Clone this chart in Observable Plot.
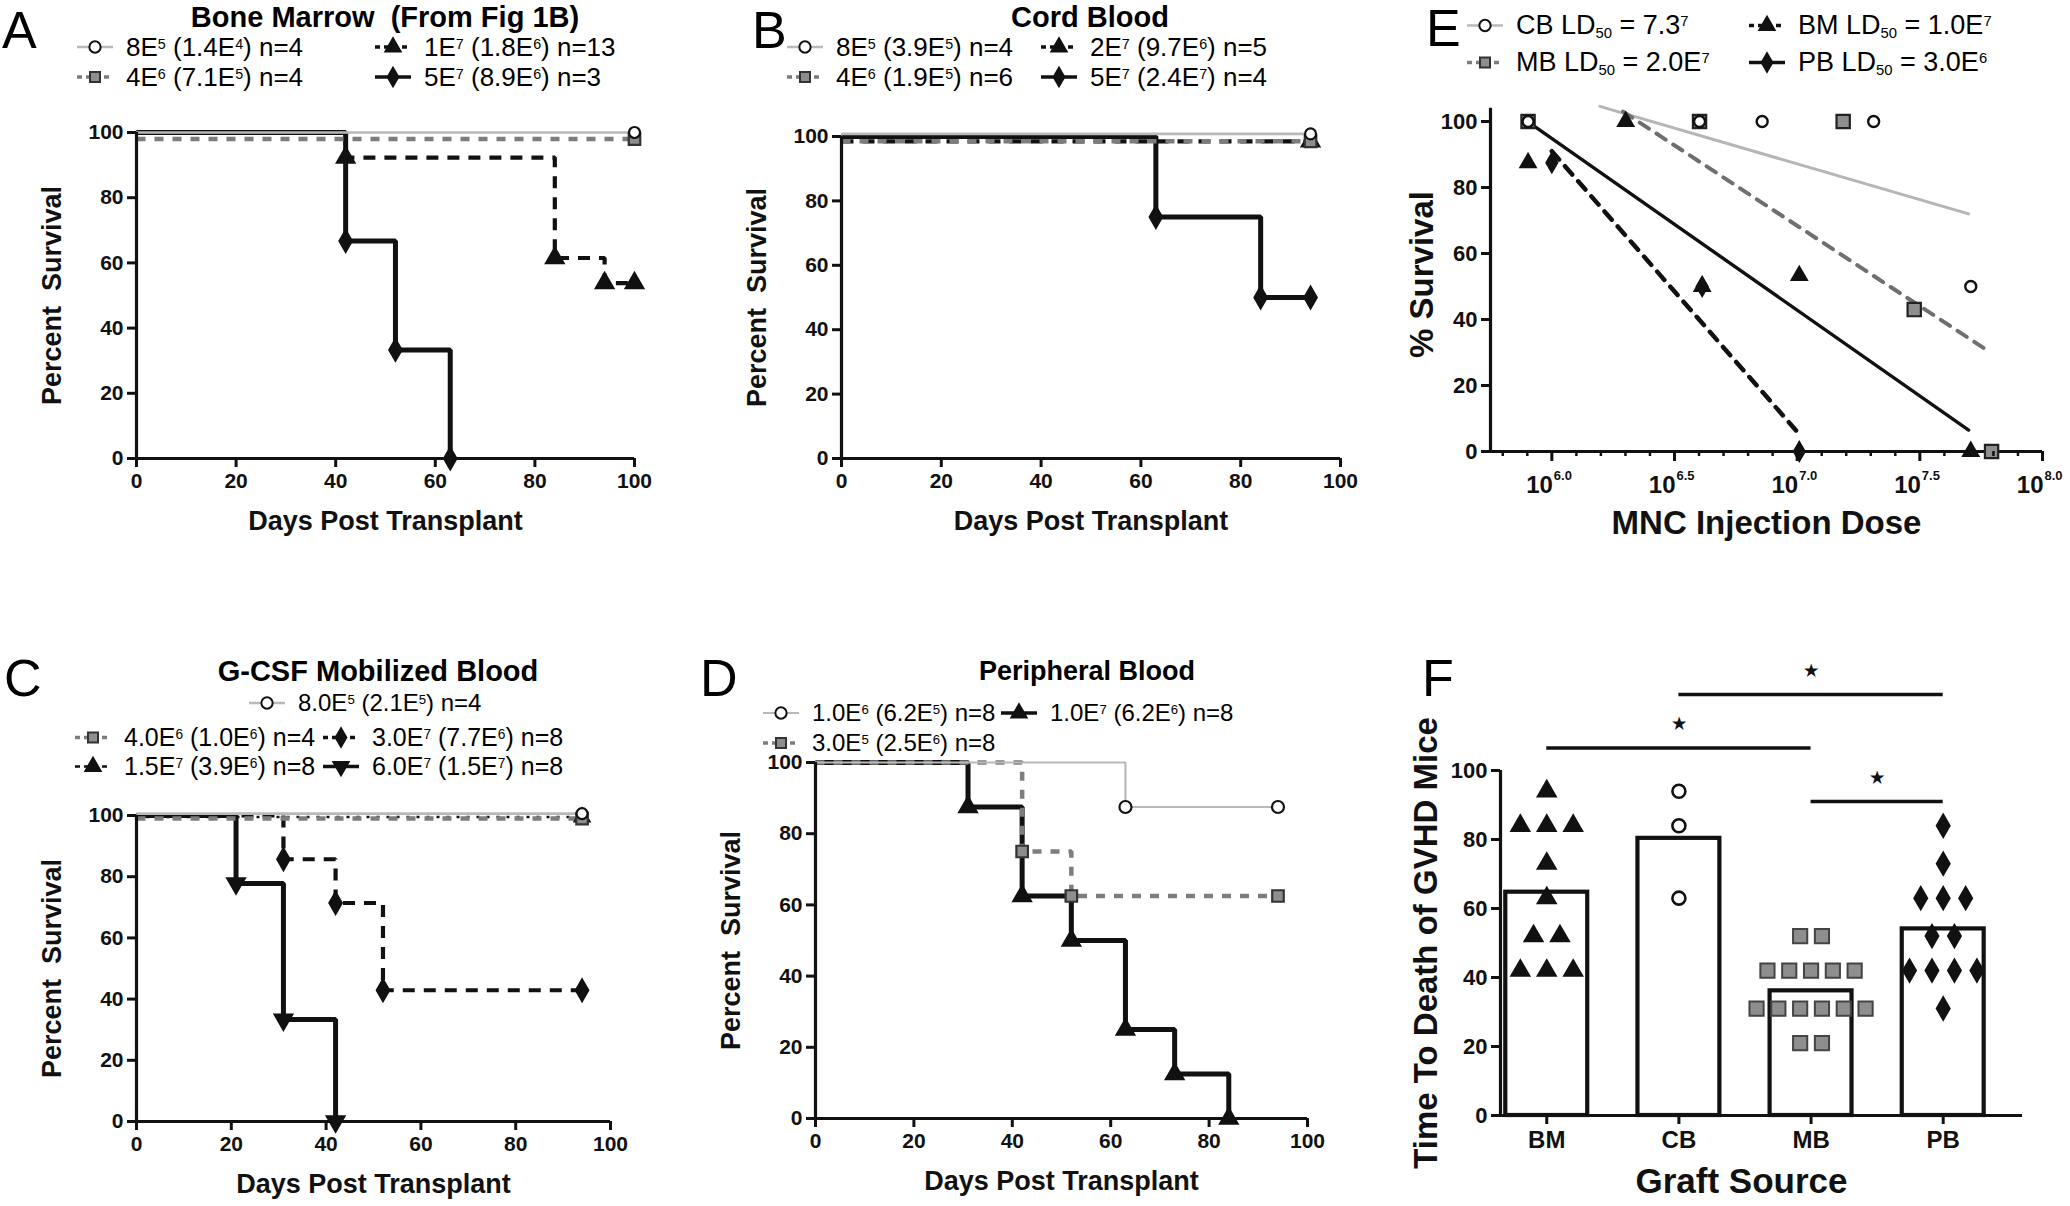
<!DOCTYPE html>
<html><head><meta charset="utf-8">
<script src="https://cdn.jsdelivr.net/npm/d3@7"></script>
<script src="https://cdn.jsdelivr.net/npm/@observablehq/plot@0.6"></script>
<style>
body{margin:0;background:#fff;}
#root{position:relative;width:2070px;height:1206px;overflow:hidden;background:#fff;font-family:"Liberation Sans",Arial,sans-serif;color:#000;}
.abs{position:absolute;white-space:nowrap;line-height:1;}
.letter{font-size:52px;}
.ptitle{font-weight:bold;transform:translate(-50%,-50%);}
.leg{display:flex;align-items:center;gap:12px;transform:translateY(-50%);}
.leg sup{font-size:0.55em;vertical-align:0.5em;line-height:0;}
.leg sub{font-size:0.55em;vertical-align:-0.3em;line-height:0;}
</style></head><body><div id="root"></div><script>
// ================= DATA =================
// Panel A — Bone Marrow (From Fig 1B): Kaplan–Meier steps (days, % survival)
const A_labels = ["8E<sup>5</sup> (1.4E<sup>4</sup>) n=4","4E<sup>6</sup> (7.1E<sup>5</sup>) n=4","1E<sup>7</sup> (1.8E<sup>6</sup>) n=13","5E<sup>7</sup> (8.9E<sup>6</sup>) n=3"];
const A_days = [[0,100],[0,100],[0,42,84,94,100],[0,42,52,63]];
const A_surv = [[100,100],[98,98],[100,92.3,61.5,53.8,53.8],[100,66.7,33.3,0]];
const A_kind = ["grayCircle","graySquare","blackTriDash","blackDiamond"];

// Panel B — Cord Blood
const B_labels = ["8E<sup>5</sup> (3.9E<sup>5</sup>) n=4","4E<sup>6</sup> (1.9E<sup>5</sup>) n=6","2E<sup>7</sup> (9.7E<sup>6</sup>) n=5","5E<sup>7</sup> (2.4E<sup>7</sup>) n=4"];
const B_days = [[0,94],[0,94],[0,94],[0,63,84,94]];
const B_surv = [[100.8,100.8],[98.5,98.5],[98.5,98.5],[100,75,50,50]];
const B_kind = ["grayCircle","graySquare","blackTriDash","blackDiamond"];

// Panel C — G-CSF Mobilized Blood
const C_labels = ["8.0E<sup>5</sup> (2.1E<sup>5</sup>) n=4","4.0E<sup>6</sup> (1.0E<sup>6</sup>) n=4","3.0E<sup>7</sup> (7.7E<sup>6</sup>) n=8","1.5E<sup>7</sup> (3.9E<sup>6</sup>) n=8","6.0E<sup>7</sup> (1.5E<sup>7</sup>) n=8"];
const C_days = [[0,94],[0,94],[0,31,42,52,94],[0,94],[0,21,31,42]];
const C_surv = [[100.6,100.6],[99,99],[100,85.7,71.4,42.9,42.9],[99.5,99.5],[100,77.8,33.3,0]];
const C_kind = ["grayCircle","graySquare","blackDiamondDash","blackTriDot","blackInvTri"];

// Panel D — Peripheral Blood
const D_labels = ["1.0E<sup>6</sup> (6.2E<sup>5</sup>) n=8","1.0E<sup>7</sup> (6.2E<sup>6</sup>) n=8","3.0E<sup>5</sup> (2.5E<sup>6</sup>) n=8"];
const D_days = [[0,63,94],[0,31,42,52,63,73,84],[0,42,52,94]];
const D_surv = [[100,87.5,87.5],[100,87.5,62.5,50,25,12.5,0],[100,75,62.5,62.5]];
const D_kind = ["grayCircleThin","blackTriSolid","graySquare"];

const SURV_TICKS = [0,20,40,60,80,100];

// Panel E — % survival vs MNC injection dose (log scale)
const E_labels = ["CB LD<sub>50</sub> = 7.3<sup>7</sup>","BM LD<sub>50</sub> = 1.0E<sup>7</sup>","MB LD<sub>50</sub> = 2.0E<sup>7</sup>","PB LD<sub>50</sub> = 3.0E<sup>6</sup>"];
const E_cb_dose = [8.0e5, 4.0e6, 7.2e6, 2.05e7, 5.1e7];
const E_cb_surv = [100, 100, 100, 100, 50];
const E_bm_dose = [8.0e5, 2.0e6, 4.1e6, 1.02e7, 5.1e7];
const E_bm_surv = [87.5, 100, 50, 53.3, 0];
const E_mb_dose = [8.0e5, 4.0e6, 1.54e7, 3.0e7, 6.2e7];
const E_mb_surv = [100, 100, 100, 43, 0];
const E_pb_dose = [1.0e6, 4.1e6, 1.02e7];
const E_pb_surv = [87.5, 50, 0];
// regression lines (end points)
const E_fit_cb_dose = [1.57e6, 5.0e7],  E_fit_cb_surv = [104.6, 72];
const E_fit_mb_dose = [1.95e6, 6.0e7],  E_fit_mb_surv = [103, 30.5];
const E_fit_bm_dose = [8.5e5, 5.0e7],   E_fit_bm_surv = [98.5, 6.5];
const E_fit_pb_dose = [1.0e6, 1.0e7],   E_fit_pb_surv = [91, 6];
const E_xticks = [1e6, 10**6.5, 1e7, 10**7.5, 1e8];
const E_xtick_exp = ["6.0","6.5","7.0","7.5","8.0"];
const E_yticks = [0,20,40,60,80,100];

// Panel F — Time to death of GVHD mice by graft source
const F_sources = ["BM","CB","MB","PB"];
const F_bm = [94,84,84,84,73,63,52,52,42,42,42];
const F_cb = [94,84,63];
const F_mb = [52,52,42,42,42,42,42,31,31,31,31,31,31,21,21];
const F_pb = [84,73,63,63,63,52,52,42,42,42,42,31];
const F_sig_pairs = [["BM","MB"],["CB","PB"],["MB","PB"]];
const F_sig_height = [106.5, 122, 91];
const F_yticks = [0,20,40,60,80,100];

// ================= STYLES =================
const FONT = '"Liberation Sans", Arial, sans-serif';
const symInvTri = {draw(ctx, size){
  const y = -Math.sqrt(size / (Math.sqrt(3) * 3));
  ctx.moveTo(0, -y * 2); ctx.lineTo(-Math.sqrt(3) * y, y); ctx.lineTo(Math.sqrt(3) * y, y); ctx.closePath();
}};
const STY = {
  grayCircle:     {stroke:"#b9b9b9", sw:2.6, dash:null,   symbol:"circle",   fill:"white", mstroke:"#111", r:5.5, z:5},
  grayCircleThin: {stroke:"#b9b9b9", sw:2.2, dash:null,   symbol:"circle",   fill:"white", mstroke:"#111", r:6,   z:5},
  graySquare:     {stroke:"#7d7d7d", sw:4.5, dash:"9,9",  symbol:"square",   fill:"#8e8e8e", mstroke:"#333", r:6.5, z:4},
  blackTriDash:   {stroke:"#111", sw:4.2, dash:"12,9",    symbol:"triangle", fill:"#111", mstroke:"#111", r:6.5, z:3},
  blackTriDot:    {stroke:"#111", sw:2.4, dash:"3,7",     symbol:"triangle", fill:"#111", mstroke:"#111", r:5.5, z:3},
  blackDiamondDash:{stroke:"#111", sw:4.2, dash:"12,9",   symbol:"diamond",  fill:"#111", mstroke:"#111", r:6.5, z:2},
  blackDiamond:   {stroke:"#111", sw:5,   dash:null,      symbol:"diamond",  fill:"#111", mstroke:"#111", r:6.5, z:1},
  blackTriSolid:  {stroke:"#111", sw:5,   dash:null,      symbol:"triangle", fill:"#111", mstroke:"#111", r:6.5, z:1},
  blackInvTri:    {stroke:"#111", sw:5,   dash:null,      symbol:symInvTri,  fill:"#111", mstroke:"#111", r:6.5, z:1}
};
const D3SYM = {circle:d3.symbolCircle, square:d3.symbolSquare, triangle:d3.symbolTriangle, diamond:d3.symbolDiamond};

const root = document.getElementById("root");
function place(el, left, top){ el.style.position="absolute"; el.style.left=left+"px"; el.style.top=top+"px"; root.appendChild(el); }
function html(cls, inner, left, top, size){ const d=document.createElement("div"); d.className="abs "+cls; d.innerHTML=inner; if(size) d.style.fontSize=size+"px"; place(d,left,top); return d; }
function swatch(kind){
  const s = STY[kind];
  const type = typeof s.symbol === "string" ? D3SYM[s.symbol] : s.symbol;
  const p = d3.symbol(type, 100)();
  const dash = s.dash ? `stroke-dasharray="5,4"` : "";
  return `<svg width="38" height="22" viewBox="-19 -11 38 22" style="overflow:visible;flex:none"><line x1="-18" x2="18" y1="0" y2="0" stroke="${s.stroke}" stroke-width="${Math.min(s.sw,3.5)}" ${dash}/><path d="${p}" fill="${s.fill}" stroke="${s.mstroke}" stroke-width="2"/></svg>`;
}
function legendItem(kind, label, left, cy, size){ html("leg", swatch(kind)+"<span>"+label+"</span>", left, cy, size); }
function frameSpec(x0, x1, yTop, yBot){
  const ml=160, mr=70, mt=50, mb=110;
  return {left:x0-ml, top:yTop-mt, width:(x1-x0)+ml+mr, height:(yBot-yTop)+mt+mb, marginLeft:ml, marginRight:mr, marginTop:mt, marginBottom:mb};
}
const plotStyle = {background:"transparent", overflow:"visible", fontFamily:FONT, fontWeight:"bold", maxWidth:"none", color:"#111"};

function survivalPanel(days, surv, kind, x0, x1, yTop, yBot){
  const f = frameSpec(x0, x1, yTop, yBot);
  const order = d3.range(days.length).sort((a,b)=>STY[kind[a]].z - STY[kind[b]].z);
  const marks = [];
  for (const i of order){
    const s = STY[kind[i]];
    const pts = days[i].map((t,j)=>({t, v:surv[i][j], j}));
    marks.push(Plot.line(pts, {x:"t", y:"v", curve:"step-after", stroke:s.stroke, strokeWidth:s.sw, strokeDasharray:s.dash||undefined, strokeLinecap:"butt", strokeLinejoin:"miter"}));
  }
  marks.push(Plot.ruleY([0], {x1:0, x2:100, strokeWidth:3.2, stroke:"#111"}));
  marks.push(Plot.ruleX([0], {y1:0, y2:100, strokeWidth:3.2, stroke:"#111"}));
  for (const i of order){
    const s = STY[kind[i]];
    const pts = days[i].map((t,j)=>({t, v:surv[i][j], j})).filter(p=>p.j>0);
    marks.push(Plot.dot(pts, {x:"t", y:"v", symbol:s.symbol, r:s.r, fill:s.fill, stroke:s.mstroke, strokeWidth:2.2}));
  }
  marks.push(Plot.axisX({ticks:SURV_TICKS, tickSize:9, tickPadding:6, fontSize:21, strokeWidth:3, label:null, tickFormat:d=>d}));
  marks.push(Plot.axisY({ticks:SURV_TICKS, tickSize:9, tickPadding:4, fontSize:21, strokeWidth:3, label:null, tickFormat:d=>d}));
  marks.push(Plot.text(["Days Post Transplant"], {frameAnchor:"bottom", lineAnchor:"middle", textAnchor:"middle", dy:63, fontSize:27}));
  marks.push(Plot.text(["Percent  Survival"], {frameAnchor:"left", lineAnchor:"middle", textAnchor:"middle", rotate:-90, dx:-84, fontSize:27}));
  const svg = Plot.plot({width:f.width, height:f.height, marginLeft:f.marginLeft, marginRight:f.marginRight, marginTop:f.marginTop, marginBottom:f.marginBottom,
    x:{domain:[0,100]}, y:{domain:[0,100]}, style:plotStyle, marks});
  place(svg, f.left, f.top);
}

// ---------- Panel A
survivalPanel(A_days, A_surv, A_kind, 136, 634, 132, 458);
html("letter","A",2,4);
html("ptitle","Bone Marrow&nbsp;&nbsp;(From Fig 1B)",385,17,29);
legendItem(A_kind[0], A_labels[0], 76, 47, 26);
legendItem(A_kind[2], A_labels[2], 374, 47, 26);
legendItem(A_kind[1], A_labels[1], 76, 77, 26);
legendItem(A_kind[3], A_labels[3], 374, 77, 26);

// ---------- Panel B
survivalPanel(B_days, B_surv, B_kind, 841, 1340, 136, 458);
html("letter","B",752,4);
html("ptitle","Cord Blood",1090,17,29);
legendItem(B_kind[0], B_labels[0], 786, 47, 26);
legendItem(B_kind[2], B_labels[2], 1040, 47, 26);
legendItem(B_kind[1], B_labels[1], 786, 77, 26);
legendItem(B_kind[3], B_labels[3], 1040, 77, 26);

// ---------- Panel C
survivalPanel(C_days, C_surv, C_kind, 136, 610, 815, 1121);
html("letter","C",4,652);
html("ptitle","G-CSF Mobilized Blood",378,671,29);
legendItem(C_kind[0], C_labels[0], 248, 703, 24);
legendItem(C_kind[1], C_labels[1], 74, 737, 25);
legendItem(C_kind[2], C_labels[2], 322, 737, 25);
legendItem(C_kind[3], C_labels[3], 74, 766, 25);
legendItem(C_kind[4], C_labels[4], 322, 766, 25);

// ---------- Panel D
survivalPanel(D_days, D_surv, D_kind, 815, 1307, 762, 1118);
html("letter","D",700,652);
html("ptitle","Peripheral Blood",1087,671,27);
legendItem(D_kind[0], D_labels[0], 762, 713, 24);
legendItem(D_kind[1], D_labels[1], 1000, 713, 24);
legendItem(D_kind[2], D_labels[2], 762, 743, 24);

// ---------- Panel E
(function(){
  const x0=1490, x1=2042, yTop=121, yBot=451;
  const f = frameSpec(x0, x1, yTop, yBot);
  const xmin = 10**5.75, xmax = 1e8;
  const minor = d3.range(58, 80).filter(v=>v%5!==0).map(v=>10**(v/10));
  const pts = (dose, surv)=>dose.map((x,i)=>({x, y:surv[i]}));
  const marks = [
    Plot.line(pts(E_fit_cb_dose,E_fit_cb_surv), {x:"x", y:"y", stroke:"#b5b5b5", strokeWidth:3}),
    Plot.line(pts(E_fit_mb_dose,E_fit_mb_surv), {x:"x", y:"y", stroke:"#6f6f6f", strokeWidth:4, strokeDasharray:"11,9"}),
    Plot.line(pts(E_fit_bm_dose,E_fit_bm_surv), {x:"x", y:"y", stroke:"#111", strokeWidth:3.4}),
    Plot.line(pts(E_fit_pb_dose,E_fit_pb_surv), {x:"x", y:"y", stroke:"#111", strokeWidth:4.5, strokeDasharray:"11,9"}),
    Plot.ruleY([0], {x1:xmin, x2:xmax, strokeWidth:3.2, stroke:"#111"}),
    Plot.ruleX([xmin], {y1:0, y2:104, strokeWidth:3.2, stroke:"#111"}),
    Plot.dot(pts(E_mb_dose,E_mb_surv), {x:"x", y:"y", symbol:"square", r:7.5, fill:"#8e8e8e", stroke:"#222", strokeWidth:2.2}),
    Plot.dot(pts(E_bm_dose,E_bm_surv), {x:"x", y:"y", symbol:"triangle", r:7, fill:"#111"}),
    Plot.dot(pts(E_pb_dose,E_pb_surv), {x:"x", y:"y", symbol:"diamond", r:7, fill:"#111"}),
    Plot.dot(pts(E_cb_dose,E_cb_surv), {x:"x", y:"y", symbol:"circle", r:5.5, fill:"white", stroke:"#111", strokeWidth:2.4}),
    Plot.axisX({ticks:E_xticks, tickSize:10, strokeWidth:3, tickFormat:()=>"", label:null}),
    Plot.axisX({ticks:minor, tickSize:5, strokeWidth:2.5, tickFormat:()=>"", label:null}),
    Plot.text(E_xticks, {x:d=>d, y:0, text:()=>"10", textAnchor:"end", dx:1, dy:34, fontSize:24}),
    Plot.text(E_xticks, {x:d=>d, y:0, text:(d,i)=>E_xtick_exp[i], textAnchor:"start", dx:2, dy:24, fontSize:13}),
    Plot.axisY({ticks:E_yticks, tickSize:9, tickPadding:4, fontSize:22, strokeWidth:3, label:null, tickFormat:d=>d}),
    Plot.text(["MNC Injection Dose"], {frameAnchor:"bottom", lineAnchor:"middle", textAnchor:"middle", dy:72, fontSize:33}),
    Plot.text(["% Survival"], {frameAnchor:"left", lineAnchor:"middle", textAnchor:"middle", rotate:-90, dx:-68, dy:-12, fontSize:33})
  ];
  const svg = Plot.plot({width:f.width, height:f.height, marginLeft:f.marginLeft, marginRight:f.marginRight, marginTop:f.marginTop, marginBottom:f.marginBottom,
    x:{type:"log", domain:[xmin, xmax]}, y:{domain:[0,100]}, style:plotStyle, marks});
  place(svg, f.left, f.top);
})();
html("letter","E",1426,2);
legendItem("grayCircle", E_labels[0], 1466, 25, 27);
legendItem("blackTriDash", E_labels[1], 1748, 25, 27);
legendItem("graySquare", E_labels[2], 1466, 62, 27);
legendItem("blackDiamond", E_labels[3], 1748, 62, 27);

// ---------- Panel F
(function(){
  const x0=1500, x1=2022, yTop=770, yBot=1115;
  const f = frameSpec(x0, x1, yTop, yBot);
  const xmin=-0.35, xmax=3.6;
  const groups = [F_bm, F_cb, F_mb, F_pb];
  const spread = [0.2, 0.17, 0.165, 0.17];
  const pts = [];
  groups.forEach((vals, gi)=>{
    const counts = d3.rollup(vals, v=>v.length, v=>v);
    const seen = new Map();
    vals.forEach(v=>{
      const k = counts.get(v), j = seen.get(v)||0; seen.set(v, j+1);
      pts.push({g:gi, x: gi + (j-(k-1)/2)*spread[gi], y:v});
    });
  });
  const bars = groups.map((vals,gi)=>({g:gi, mean:d3.mean(vals)}));
  const sig = F_sig_pairs.map((p,i)=>({a:F_sources.indexOf(p[0]), b:F_sources.indexOf(p[1]), y:F_sig_height[i]}));
  const marks = [
    Plot.rectY(bars, {x1:d=>d.g-0.31, x2:d=>d.g+0.31, y1:0, y2:"mean", fill:"white", stroke:"#111", strokeWidth:4.2}),
    Plot.dot(pts.filter(d=>d.g===0), {x:"x", y:"y", symbol:"triangle", r:8, fill:"#111"}),
    Plot.dot(pts.filter(d=>d.g===1), {x:"x", y:"y", symbol:"circle", r:6.5, fill:"white", stroke:"#111", strokeWidth:2.6}),
    Plot.dot(pts.filter(d=>d.g===2), {x:"x", y:"y", symbol:"square", r:8, fill:"#8e8e8e", stroke:"#444", strokeWidth:2}),
    Plot.dot(pts.filter(d=>d.g===3), {x:"x", y:"y", symbol:"diamond", r:8, fill:"#111"}),
    Plot.ruleY([0], {x1:xmin, x2:xmax, strokeWidth:3.2, stroke:"#111"}),
    Plot.ruleX([xmin], {y1:0, y2:100, strokeWidth:3.2, stroke:"#111"}),
    Plot.ruleY(sig, {x1:"a", x2:"b", y:"y", strokeWidth:3.5, stroke:"#111"}),
    Plot.text(sig, {x:d=>(d.a+d.b)/2, y:d=>d.y+7, text:()=>"★", fontSize:16}),
    Plot.axisX({ticks:[0,1,2,3], tickFormat:i=>F_sources[i], tickSize:9, tickPadding:6, fontSize:24, strokeWidth:3, label:null}),
    Plot.axisY({ticks:F_yticks, tickSize:9, tickPadding:4, fontSize:22, strokeWidth:3, label:null, tickFormat:d=>d}),
    Plot.text(["Graft Source"], {frameAnchor:"bottom", lineAnchor:"middle", textAnchor:"middle", dx:-20, dy:66, fontSize:35}),
    Plot.text(["Time To Death of GVHD Mice"], {frameAnchor:"left", lineAnchor:"middle", textAnchor:"middle", rotate:-90, dx:-74, fontSize:33})
  ];
  const svg = Plot.plot({width:f.width, height:f.height, marginLeft:f.marginLeft, marginRight:f.marginRight, marginTop:f.marginTop, marginBottom:f.marginBottom,
    x:{domain:[xmin,xmax]}, y:{domain:[0,100]}, style:plotStyle, marks});
  place(svg, f.left, f.top);
})();
html("letter","F",1422,652);
</script></body></html>
